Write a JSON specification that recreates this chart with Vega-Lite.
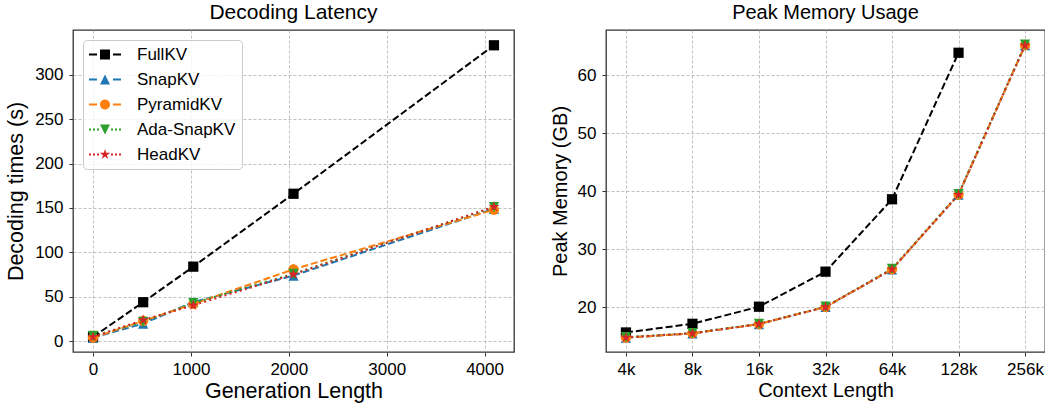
{
  "$schema": "https://vega.github.io/schema/vega-lite/v6.json",
  "padding": {"left": 4, "top": 1, "right": 2, "bottom": 0},
  "background": "white",
  "config": {
    "font": "Liberation Sans",
    "view": {"stroke": "#333333", "strokeWidth": 1.3},
    "axis": {
      "labelFont": "Liberation Sans", "labelFontSize": 17, "labelColor": "#000000",
      "titleFont": "Liberation Sans", "titleFontWeight": "normal", "titleColor": "#000000",
      "domain": false, "tickColor": "#333333", "tickSize": 4, "tickWidth": 1,
      "gridColor": "#b0b0b0", "gridDash": [3, 2], "gridWidth": 0.8
    },
    "axisX": {"labelPadding": 5, "titlePadding": 3},
    "axisY": {"labelPadding": 6, "titlePadding": 7},
    "title": {"font": "Liberation Sans", "fontWeight": "normal", "color": "#000000", "offset": 7}
  },
  "datasets": {
    "lat": [
      {"gen": 0, "method": "FullKV", "t": 5}, {"gen": 512, "method": "FullKV", "t": 44}, {"gen": 1024, "method": "FullKV", "t": 84}, {"gen": 2048, "method": "FullKV", "t": 166}, {"gen": 4096, "method": "FullKV", "t": 333},
      {"gen": 0, "method": "SnapKV", "t": 4}, {"gen": 512, "method": "SnapKV", "t": 20}, {"gen": 1024, "method": "SnapKV", "t": 44}, {"gen": 2048, "method": "SnapKV", "t": 74}, {"gen": 4096, "method": "SnapKV", "t": 149},
      {"gen": 0, "method": "PyramidKV", "t": 4}, {"gen": 512, "method": "PyramidKV", "t": 23}, {"gen": 1024, "method": "PyramidKV", "t": 42}, {"gen": 2048, "method": "PyramidKV", "t": 81}, {"gen": 4096, "method": "PyramidKV", "t": 148},
      {"gen": 0, "method": "Ada-SnapKV", "t": 6}, {"gen": 512, "method": "Ada-SnapKV", "t": 22}, {"gen": 1024, "method": "Ada-SnapKV", "t": 43}, {"gen": 2048, "method": "Ada-SnapKV", "t": 76}, {"gen": 4096, "method": "Ada-SnapKV", "t": 151},
      {"gen": 0, "method": "HeadKV", "t": 5}, {"gen": 512, "method": "HeadKV", "t": 24}, {"gen": 1024, "method": "HeadKV", "t": 40.5}, {"gen": 2048, "method": "HeadKV", "t": 75.4}, {"gen": 4096, "method": "HeadKV", "t": 151.4}
    ],
    "mem": [
      {"ctx": "4k", "method": "FullKV", "gb": 15.6}, {"ctx": "8k", "method": "FullKV", "gb": 17.1}, {"ctx": "16k", "method": "FullKV", "gb": 20.05}, {"ctx": "32k", "method": "FullKV", "gb": 26.1}, {"ctx": "64k", "method": "FullKV", "gb": 38.6}, {"ctx": "128k", "method": "FullKV", "gb": 63.9},
      {"ctx": "4k", "method": "SnapKV", "gb": 14.7}, {"ctx": "8k", "method": "SnapKV", "gb": 15.45}, {"ctx": "16k", "method": "SnapKV", "gb": 17.05}, {"ctx": "32k", "method": "SnapKV", "gb": 20.0}, {"ctx": "64k", "method": "SnapKV", "gb": 26.5}, {"ctx": "128k", "method": "SnapKV", "gb": 39.4}, {"ctx": "256k", "method": "SnapKV", "gb": 65.2},
      {"ctx": "4k", "method": "PyramidKV", "gb": 14.7}, {"ctx": "8k", "method": "PyramidKV", "gb": 15.45}, {"ctx": "16k", "method": "PyramidKV", "gb": 17.05}, {"ctx": "32k", "method": "PyramidKV", "gb": 20.0}, {"ctx": "64k", "method": "PyramidKV", "gb": 26.5}, {"ctx": "128k", "method": "PyramidKV", "gb": 39.4}, {"ctx": "256k", "method": "PyramidKV", "gb": 65.2},
      {"ctx": "4k", "method": "Ada-SnapKV", "gb": 14.8}, {"ctx": "8k", "method": "Ada-SnapKV", "gb": 15.5}, {"ctx": "16k", "method": "Ada-SnapKV", "gb": 17.1}, {"ctx": "32k", "method": "Ada-SnapKV", "gb": 20.05}, {"ctx": "64k", "method": "Ada-SnapKV", "gb": 26.6}, {"ctx": "128k", "method": "Ada-SnapKV", "gb": 39.5}, {"ctx": "256k", "method": "Ada-SnapKV", "gb": 65.3},
      {"ctx": "4k", "method": "HeadKV", "gb": 14.75}, {"ctx": "8k", "method": "HeadKV", "gb": 15.45}, {"ctx": "16k", "method": "HeadKV", "gb": 17.05}, {"ctx": "32k", "method": "HeadKV", "gb": 20.0}, {"ctx": "64k", "method": "HeadKV", "gb": 26.5}, {"ctx": "128k", "method": "HeadKV", "gb": 39.4}, {"ctx": "256k", "method": "HeadKV", "gb": 65.2}
    ]
  },
  "resolve": {
    "scale": {"color": "independent", "shape": "independent", "stroke": "independent", "strokeDash": "independent"},
    "legend": {"color": "independent", "shape": "independent", "stroke": "independent", "strokeDash": "independent"}
  },
  "spacing": 34,
  "hconcat": [
    {
      "width": 441, "height": 322,
      "title": {"text": "Decoding Latency", "fontSize": 21},
      "data": {"name": "lat"},
      "layer": [
        {
          "mark": {"type": "line", "strokeWidth": 2},
          "encoding": {
            "x": {"field": "gen", "type": "quantitative", "scale": {"domain": [-204.8, 4300.8], "nice": false, "zero": false},
                  "axis": {"title": "Generation Length", "titleFontSize": 21.5, "format": "d", "values": [0, 1000, 2000, 3000, 4000]}},
            "y": {"field": "t", "type": "quantitative", "scale": {"domain": [-12, 350.2], "nice": false, "zero": false},
                  "axis": {"title": "Decoding times (s)", "titleFontSize": 21.5, "values": [0, 50, 100, 150, 200, 250, 300]}},
            "stroke": {"field": "method", "type": "nominal", "legend": null,
                       "scale": {"domain": ["Ada-SnapKV", "FullKV", "HeadKV", "PyramidKV", "SnapKV"], "range": ["#2ca02c", "#000000", "#d62728", "#ff7f0e", "#1f77b4"]}},
            "strokeDash": {"field": "method", "type": "nominal", "legend": null,
                           "scale": {"domain": ["Ada-SnapKV", "FullKV", "HeadKV", "PyramidKV", "SnapKV"], "range": [[2, 3.3], [7, 3], [2, 3.3], [7, 3], [7, 3]]}}
          }
        },
        {
          "mark": {"type": "point", "filled": true, "opacity": 1, "size": 105},
          "encoding": {
            "x": {"field": "gen", "type": "quantitative"},
            "y": {"field": "t", "type": "quantitative"},
            "color": {"field": "method", "type": "nominal",
                      "scale": {"domain": ["FullKV", "SnapKV", "PyramidKV", "Ada-SnapKV", "HeadKV"], "range": ["#000000", "#1f77b4", "#ff7f0e", "#2ca02c", "#d62728"]},
                      "legend": {
                        "title": null, "orient": "top-left", "direction": "vertical", "offset": 10,
                        "symbolSize": 1024, "symbolStrokeWidth": 0, "symbolOpacity": 1,
                        "labelFontSize": 17, "labelFont": "Liberation Sans", "labelColor": "#000000", "labelOffset": 16,
                        "rowPadding": 7, "padding": 6, "strokeColor": "#cccccc", "fillColor": "rgba(255,255,255,0.8)", "cornerRadius": 4,
                        "clipHeight": 17,
                        "encode": {"symbols": {"update": {"shape": {"signal": "datum.value === 'FullKV' ? 'M-1,-0.0625H-0.5V0.0625H-1Z M0.5,-0.0625H1V0.0625H0.5Z M-0.3125,-0.3125H0.3125V0.3125H-0.3125Z' : datum.value === 'SnapKV' ? 'M-1,-0.0625H-0.5V0.0625H-1Z M0.5,-0.0625H1V0.0625H0.5Z M0,-0.3125L0.3125,0.3125H-0.3125Z' : datum.value === 'PyramidKV' ? 'M-1,-0.0625H-0.5V0.0625H-1Z M0.5,-0.0625H1V0.0625H0.5Z M0.3125,0A0.3125,0.3125,0,1,1,-0.3125,0A0.3125,0.3125,0,1,1,0.3125,0Z' : datum.value === 'Ada-SnapKV' ? 'M-1,-0.0625H-0.875V0.0625H-1Z M-0.75,-0.0625H-0.625V0.0625H-0.75Z M-0.5,-0.0625H-0.375V0.0625H-0.5Z M0.375,-0.0625H0.5V0.0625H0.375Z M0.625,-0.0625H0.75V0.0625H0.625Z M0.875,-0.0625H1V0.0625H0.875Z M0,0.3125L0.3125,-0.3125H-0.3125Z' : 'M-1,-0.0625H-0.875V0.0625H-1Z M-0.75,-0.0625H-0.625V0.0625H-0.75Z M-0.5,-0.0625H-0.375V0.0625H-0.5Z M0.375,-0.0625H0.5V0.0625H0.375Z M0.625,-0.0625H0.75V0.0625H0.625Z M0.875,-0.0625H1V0.0625H0.875Z M0,-0.34L0.0765,-0.105L0.323,-0.105L0.123,0.04L0.2,0.275L0,0.13L-0.2,0.275L-0.123,0.04L-0.323,-0.105L-0.0765,-0.105Z'"}}}}
                      }},
            "shape": {"field": "method", "type": "nominal", "legend": null,
                      "scale": {"domain": ["Ada-SnapKV", "FullKV", "HeadKV", "PyramidKV", "SnapKV"],
                                "range": ["M0,1L1,-1H-1Z", "M-1,-1H1V1H-1Z", "M0,-1.1L0.247,-0.34L1.046,-0.34L0.4,0.13L0.647,0.89L0,0.42L-0.647,0.89L-0.4,0.13L-1.046,-0.34L-0.247,-0.34Z", "M1,0A1,1,0,1,1,-1,0A1,1,0,1,1,1,0Z", "M0,-1L1,1H-1Z"]}}
          }
        }
      ]
    },
    {
      "width": 439, "height": 322,
      "title": {"text": "Peak Memory Usage", "fontSize": 20},
      "data": {"name": "mem"},
      "layer": [
        {
          "mark": {"type": "line", "strokeWidth": 2},
          "encoding": {
            "x": {"field": "ctx", "type": "ordinal", "sort": ["4k", "8k", "16k", "32k", "64k", "128k", "256k"],
                  "scale": {"type": "point", "padding": 0.3},
                  "axis": {"title": "Context Length", "titleFontSize": 20, "labelAngle": 0, "grid": true}},
            "y": {"field": "gb", "type": "quantitative", "scale": {"domain": [12.23, 67.83], "nice": false, "zero": false},
                  "axis": {"title": "Peak Memory (GB)", "titleFontSize": 20, "values": [20, 30, 40, 50, 60]}},
            "stroke": {"field": "method", "type": "nominal", "legend": null,
                       "scale": {"domain": ["Ada-SnapKV", "FullKV", "HeadKV", "PyramidKV", "SnapKV"], "range": ["#2ca02c", "#000000", "#d62728", "#ff7f0e", "#1f77b4"]}},
            "strokeDash": {"field": "method", "type": "nominal", "legend": null,
                           "scale": {"domain": ["Ada-SnapKV", "FullKV", "HeadKV", "PyramidKV", "SnapKV"], "range": [[2, 3.3], [7, 3], [2, 3.3], [7, 3], [7, 3]]}}
          }
        },
        {
          "mark": {"type": "point", "filled": true, "opacity": 1, "size": 105},
          "encoding": {
            "x": {"field": "ctx", "type": "ordinal", "sort": ["4k", "8k", "16k", "32k", "64k", "128k", "256k"]},
            "y": {"field": "gb", "type": "quantitative"},
            "color": {"field": "method", "type": "nominal", "legend": null,
                      "scale": {"domain": ["FullKV", "SnapKV", "PyramidKV", "Ada-SnapKV", "HeadKV"], "range": ["#000000", "#1f77b4", "#ff7f0e", "#2ca02c", "#d62728"]}},
            "shape": {"field": "method", "type": "nominal", "legend": null,
                      "scale": {"domain": ["Ada-SnapKV", "FullKV", "HeadKV", "PyramidKV", "SnapKV"],
                                "range": ["M0,1L1,-1H-1Z", "M-1,-1H1V1H-1Z", "M0,-1.1L0.247,-0.34L1.046,-0.34L0.4,0.13L0.647,0.89L0,0.42L-0.647,0.89L-0.4,0.13L-1.046,-0.34L-0.247,-0.34Z", "M1,0A1,1,0,1,1,-1,0A1,1,0,1,1,1,0Z", "M0,-1L1,1H-1Z"]}}
          }
        }
      ]
    }
  ]
}
